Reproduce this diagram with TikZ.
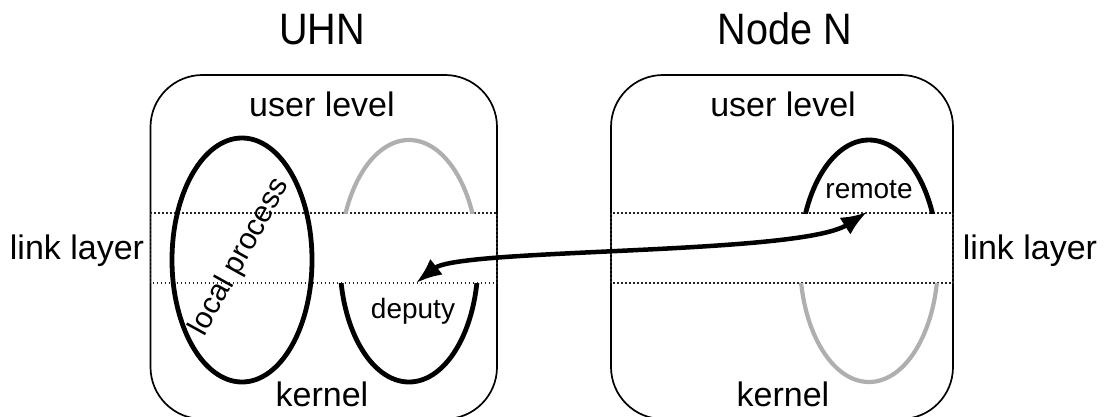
\documentclass[tikz,border=0pt]{standalone}
\usepackage{fontspec}
\setmainfont{Liberation Sans}
\usetikzlibrary{arrows.meta}
\definecolor{lightgrey}{HTML}{AFAFAF}
\tikzset{
  hostbox/.style={draw=black, line width=1.7pt, rounded corners=52pt},
  band/.style={draw=black!85, line width=1.8pt, dash pattern=on 1.8pt off 2.2pt},
  proc/.style={draw=black, line width=4.8pt},
  idle/.style={draw=lightgrey, line width=4.2pt},
  title/.style={font=\fontsize{44}{50}\selectfont, xscale=0.9, anchor=base},
  lbl/.style={font=\fontsize{34}{40}\selectfont, anchor=base},
  small/.style={font=\fontsize{28}{32}\selectfont, anchor=base},
  link/.style={line width=4.5pt, {Latex[length=26pt,width=20pt]}-{Latex[length=26pt,width=20pt]}}
}
\begin{document}
\begin{tikzpicture}[x=1pt, y=-1pt]
\useasboundingbox (0,0) rectangle (1107,417);

% host frames
\draw[hostbox] (150.5,75) rectangle (497,419);
\draw[hostbox] (611,75) rectangle (953,419);

% link-layer bands
\draw[band] (150.5,213) rectangle (497,283);
\draw[band] (611,213) rectangle (953,283);

% local process
\draw[proc] (242,260) ellipse [x radius=70, y radius=122];

% deputy: user part idle, kernel part active
\begin{scope}
  \clip (300,100) rectangle (520,213);
  \draw[idle] (409,261) ellipse [x radius=69, y radius=121];
\end{scope}
\begin{scope}
  \clip (300,283) rectangle (520,400);
  \draw[proc] (409,261) ellipse [x radius=69, y radius=121];
\end{scope}

% remote: user part active, kernel part idle
\begin{scope}
  \clip (760,100) rectangle (980,213);
  \draw[proc] (869,261) ellipse [x radius=69, y radius=121];
\end{scope}
\begin{scope}
  \clip (760,283) rectangle (980,400);
  \draw[idle] (869,261) ellipse [x radius=69, y radius=121];
\end{scope}

% titles and labels
\node[title] (uhn) at (322,45) {UHN};
\node[title] (noden) at (785,45) {Node N};
\node[lbl] (userL) at (322,117) {user level};
\node[lbl] (userR) at (783,117) {user level};
\node[lbl] (kernL) at (322,406) {kernel};
\node[lbl] (kernR) at (783,406) {kernel};
\node[lbl] (linkL) at (77,259) {link layer};
\node[lbl] (linkR) at (1030,259) {link layer};
\node[small] (deputy) at (413,318) {deputy};
\node[small] (remote) at (869,198) {remote};
\node[small, anchor=center, rotate=61, font=\fontsize{30}{34}\selectfont] (local) at (240,257) {local process};

% migration link between deputy and remote
\coordinate (dep) at (416,283);
\coordinate (rem) at (867,212);
\draw[link] (dep) .. controls (460,248) and (800,255) .. (rem);
\end{tikzpicture}
\end{document}
